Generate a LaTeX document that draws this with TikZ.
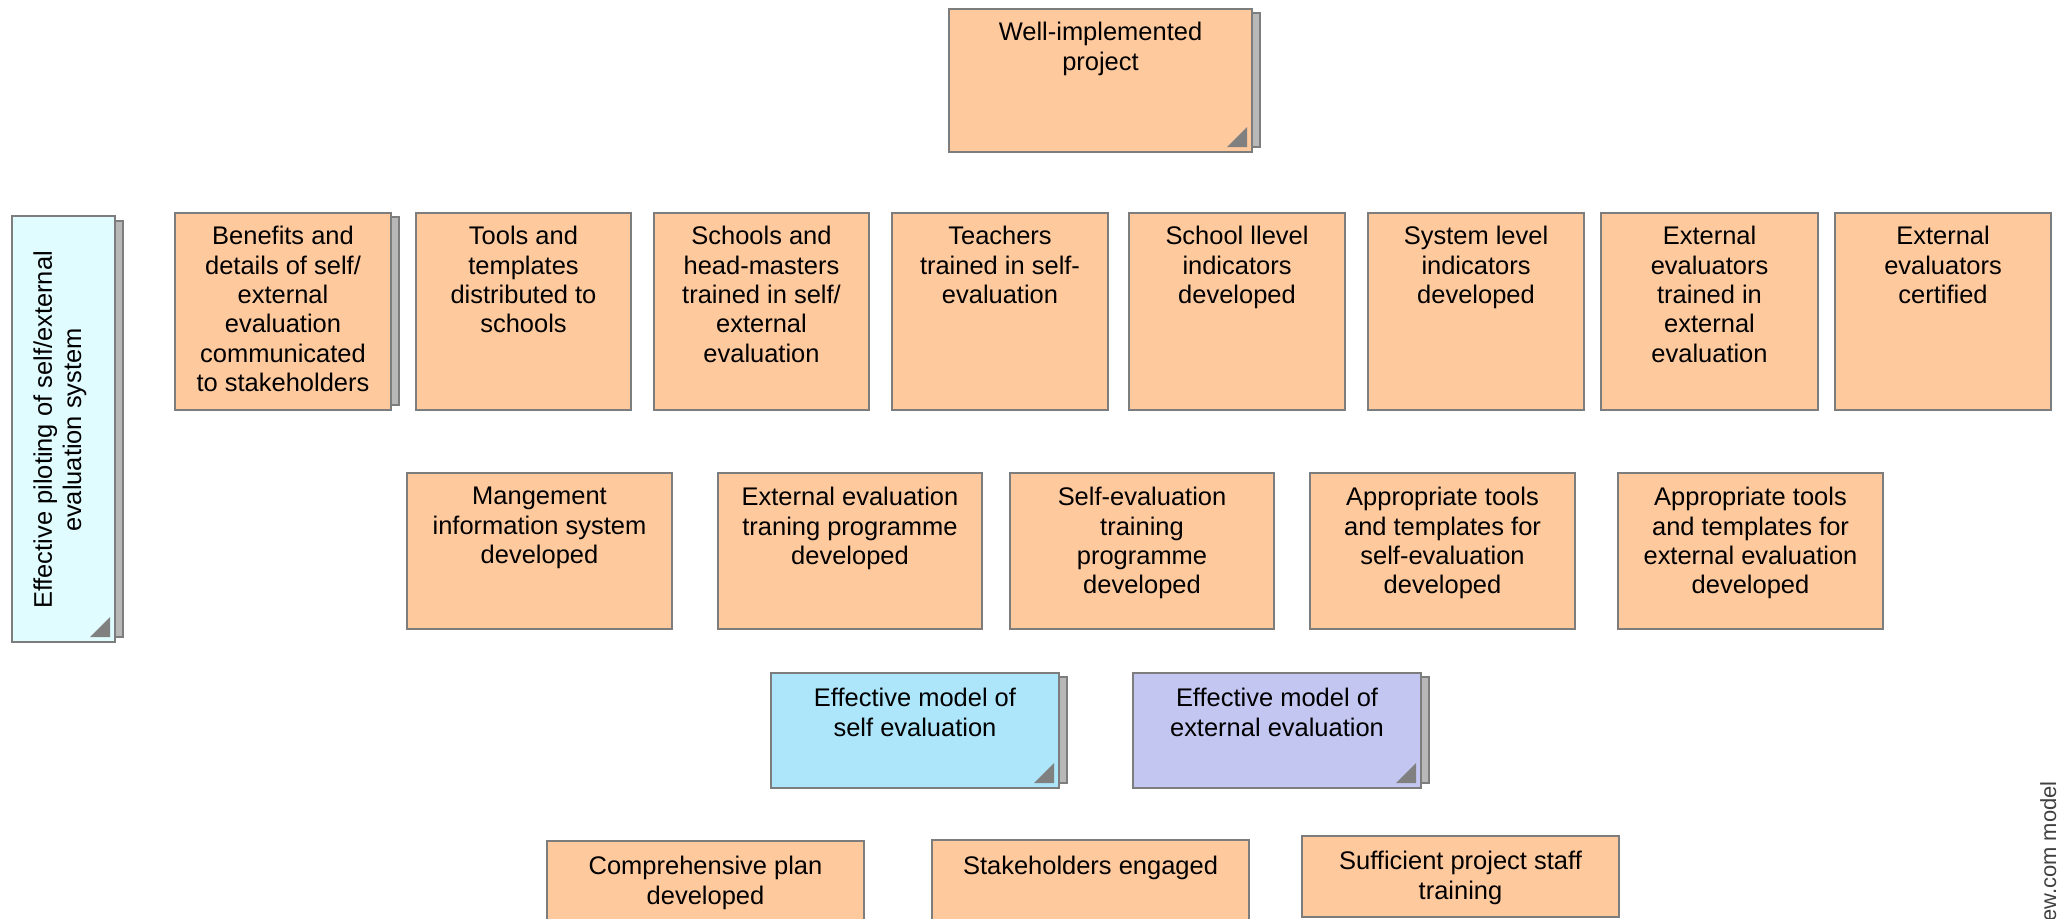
\documentclass[tikz,border=0pt]{standalone}
\usepackage{fontspec}
\setmainfont{Liberation Sans}
\definecolor{peach}{RGB}{255,201,158}
\definecolor{icecyan}{RGB}{224,252,255}
\definecolor{skyblue}{RGB}{173,229,250}
\definecolor{lavender}{RGB}{196,198,242}
\definecolor{edgegray}{RGB}{125,125,125}

\begin{document}
\begin{tikzpicture}[x=0.02cm, y=-0.02cm,
  card/.style={draw=edgegray, line width=1.1pt, fill=peach},
  sheet/.style={draw=edgegray, line width=0.8pt, fill=black!28},
  fold/.style={fill=black!50},
  lbl/.style={font=\fontsize{14.5}{16.7}\selectfont, align=center, anchor=north, inner sep=0pt}]
\useasboundingbox (0,0) rectangle (2058,919);

% goal
\draw[sheet] (957,13) rectangle (1260,147);
\draw[card] (949,9) rectangle (1252,152);
\fill[fold] (1247,147) -- (1247,127) -- (1227,147) -- cycle;
\node[lbl] (goal) at (1100.5,22) {Well-implemented\\project};

% side box
\draw[sheet] (20,221) rectangle (123,637);
\draw[card, fill=icecyan] (12,216) rectangle (115,642);
\fill[fold] (110,637) -- (110,617) -- (90,637) -- cycle;
\node[lbl, rotate=90] (pilot) at (33,430) {Effective piloting of self/external\\evaluation system};

% outputs
\draw[sheet] (183,217) rectangle (399,405);
\foreach \a/\b/\t [count=\i] in {
  175/391/{Benefits and\\details of self/\\external\\evaluation\\communicated\\to stakeholders},
  416/631/{Tools and\\templates\\distributed to\\schools},
  654/869/{Schools and\\head-masters\\trained in self/\\external\\evaluation},
  892/1108/{Teachers\\trained in self-\\evaluation},
  1129/1345/{School llevel\\indicators\\developed},
  1368/1584/{System level\\indicators\\developed},
  1601/1818/{External\\evaluators\\trained in\\external\\evaluation},
  1835/2051/{External\\evaluators\\certified}} {
 \draw[card] (\a,213) rectangle (\b,410);
 \node[lbl] (out\i) at ({(\a+\b)/2},226) {\t};
}

% developments
\foreach \a/\b/\t [count=\i] in {
  407/672/{Mangement\\information system\\developed},
  718/982/{External evaluation\\traning programme\\developed},
  1010/1274/{Self-evaluation\\training\\programme\\developed},
  1310/1575/{Appropriate tools\\and templates for\\self-evaluation\\developed},
  1618/1883/{Appropriate tools\\and templates for\\external evaluation\\developed}} {
 \draw[card] (\a,473) rectangle (\b,629);
 \node[lbl] (dev\i) at ({(\a+\b)/2},487) {\t};
}

% models
\draw[sheet] (779,677) rectangle (1067,783);
\draw[card, fill=skyblue] (771,673) rectangle (1059,788);
\fill[fold] (1054,783) -- (1054,763) -- (1034,783) -- cycle;
\node[lbl] (selfmodel) at (915,688) {Effective model of\\self evaluation};
\draw[sheet] (1141,677) rectangle (1429,783);
\draw[card, fill=lavender] (1133,673) rectangle (1421,788);
\fill[fold] (1416,783) -- (1416,763) -- (1396,783) -- cycle;
\node[lbl] (extmodel) at (1277,688) {Effective model of\\external evaluation};

% foundations
\draw[card] (547,841) rectangle (864,960);
\node[lbl] (plan) at (705.5,856) {Comprehensive plan\\developed};
\draw[card] (932,840) rectangle (1249,960);
\node[lbl] (stake) at (1090.5,856) {Stakeholders engaged};
\draw[card] (1302,836) rectangle (1619,917);
\node[lbl] (staff) at (1460.5,851) {Sufficient project staff\\training};

\node[font=\fontsize{12.5}{15}\selectfont, text=black!75, rotate=90, anchor=base east, inner sep=0pt] (credit) at (2056,781) {doview.com model};
\end{tikzpicture}
\end{document}
